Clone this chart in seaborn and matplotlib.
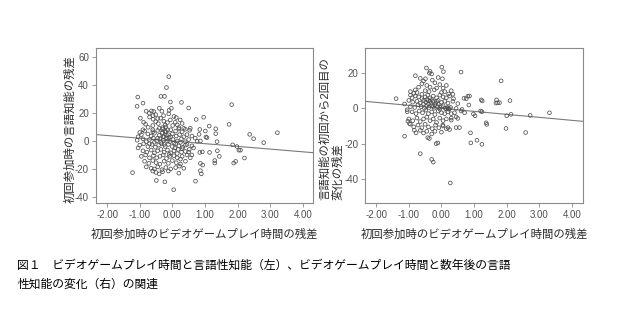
import matplotlib
matplotlib.use("Agg")
import matplotlib.pyplot as plt
import matplotlib.ticker as mticker
import numpy as np
import pandas as pd
import seaborn as sns

# ---- data: residuals (x = video game play time, y = verbal intelligence) ----
left_points = [
    # sparse / outlying observations
    (-0.11, 45.9), (-0.18, 38.1), (-1.06, 31.3), (-0.35, 31.8), (-0.24, 31.8),
    (-0.90, 27.0), (-1.08, 24.7), (-0.06, 27.8), (0.28, 27.5), (0.50, 23.5),
    (1.82, 25.9), (1.74, 11.8), (0.96, 16.9), (0.73, 15.3), (1.13, 10.6),
    (1.33, 8.7), (1.33, 5.2), (2.37, 4.7), (2.49, 1.6), (2.80, -1.2),
    (3.22, 5.9), (1.85, -2.8), (1.98, -4.0), (2.04, -6.6), (2.09, -6.6),
    (2.21, -12.2), (1.88, -15.8), (1.94, -14.6), (1.37, -0.5), (1.38, -7.0),
    (1.44, -11.0), (1.30, -14.0), (1.30, -15.8), (1.14, -8.2), (1.06, 2.4),
    (1.03, 2.8), (0.92, -7.8), (0.84, -8.2), (0.86, -16.0), (0.93, -17.2),
    (0.86, -21.2), (0.89, -23.5), (0.71, -28.7), (0.04, -34.8), (-0.23, -29.2),
    (-0.49, -28.2), (-1.22, -22.6), (0.84, 8.2), (0.86, 0.0), (0.76, -0.2),
    (1.01, 7.1),
    # upper part of the cluster
    (-0.80, 21.2), (-0.64, 21.4), (-0.57, 21.0), (-0.71, 19.8), (-0.59, 18.1),
    (-0.51, 18.8), (-0.40, 23.3), (-0.32, 21.2), (-0.10, 21.9), (-0.03, 23.3),
    (-0.27, 18.1), (-0.11, 19.3), (0.12, 16.7), (0.24, 15.0), (0.09, 13.3),
    (-0.98, 16.2), (-0.88, 13.3), (-0.82, 11.9), (-0.74, 9.7), (-0.59, 15.5),
    (-0.51, 13.8), (-0.43, 12.4), (-0.36, 16.2), (-0.26, 14.1), (-0.15, 13.1),
    (-0.22, 11.4), (-0.06, 15.0), (0.01, 11.0), (0.20, 9.5), (0.40, 8.3),
    (0.55, 9.0), (0.53, 7.6), (0.82, 4.7), (-0.70, 17.0), (-0.45, 16.0),
    (-0.30, 9.5), (-0.60, 11.0), (-0.15, 8.0), (0.05, 17.5), (-0.90, 8.0),
    (0.30, 12.5), (0.15, 11.5),
    # core of the cluster
    (-1.00, 6.0), (-0.85, 7.0), (-0.60, 8.0), (-0.45, 7.5), (-0.30, 8.5),
    (-0.20, 6.5), (-0.05, 8.0), (0.10, 7.0), (0.30, 6.5), (0.45, 4.5),
    (-1.05, 3.0), (-0.95, 4.5), (-0.75, 5.0), (-0.65, 3.5), (-0.55, 5.5),
    (-0.40, 4.0), (-0.32, 5.5), (-0.25, 3.0), (-0.12, 4.5), (0.00, 5.0),
    (0.12, 3.5), (0.22, 4.5), (0.35, 3.0), (0.60, 3.5),
    (-1.08, 0.5), (-0.90, 1.5), (-0.80, -0.5), (-0.70, 1.0), (-0.58, 2.0),
    (-0.48, 0.0), (-0.38, 1.5), (-0.28, 0.5), (-0.18, 2.0), (-0.08, -0.5),
    (0.02, 1.0), (0.15, 0.0), (0.28, 1.5), (0.40, -0.5), (0.50, 1.0),
    (-1.00, -3.0), (-0.88, -2.0), (-0.75, -4.0), (-0.62, -2.5), (-0.52, -4.5),
    (-0.42, -3.0), (-0.33, -2.0), (-0.22, -4.0), (-0.12, -2.5), (0.00, -4.0),
    (0.10, -2.0), (0.20, -3.5), (0.32, -4.5), (0.45, -2.5), (0.60, -3.5),
    (-1.05, -5.0), (-0.90, -7.0), (-0.78, -8.0), (-0.65, -6.5), (-0.55, -8.5),
    (-0.45, -7.0), (-0.35, -6.0), (-0.25, -8.0), (-0.15, -6.5), (-0.05, -8.5),
    (0.05, -7.0), (0.18, -6.0), (0.28, -8.0), (0.40, -7.5), (0.52, -6.0),
    (-0.95, -11.0), (-0.82, -10.0), (-0.70, -12.0), (-0.58, -10.5), (-0.48, -12.0),
    (-0.38, -11.0), (-0.28, -10.0), (-0.18, -12.5), (-0.08, -11.0), (0.05, -10.5),
    (0.15, -12.0), (0.30, -11.0), (0.45, -10.0),
    (-0.85, -14.5), (-0.72, -16.0), (-0.60, -14.0), (-0.50, -15.5), (-0.38, -16.5),
    (-0.25, -14.5), (-0.12, -16.0), (0.00, -14.0), (0.12, -15.5), (0.25, -16.5),
    (0.40, -14.5),
    (-0.80, -18.5), (-0.65, -19.5), (-0.55, -20.0), (-0.45, -18.5), (-0.32, -20.5),
    (-0.20, -19.0), (-0.05, -20.0), (0.10, -19.0), (0.22, -18.0), (0.35, -19.5),
    (-0.60, -21.5), (-0.50, -22.5), (-0.40, -23.5), (-0.30, -22.0), (-0.12, -21.5),
    (0.20, -23.0),
    (-0.30, 6.0), (-0.28, 3.0), (-0.22, 7.0), (-0.18, 4.0), (-0.10, 2.5),
    (-0.35, -1.0), (-0.25, -2.5), (-0.15, 0.0), (-0.05, 3.0), (0.05, -1.5),
    (-0.40, 9.0), (-0.20, 10.0), (-0.45, 2.0), (0.25, -1.0), (0.20, 8.5),
    (0.35, 9.0), (-0.55, -1.0), (-0.70, -2.0), (-0.60, 6.5), (0.08, -5.0),
    (0.15, -9.0), (-0.10, -9.5), (0.25, -13.0), (0.30, -5.5), (0.40, -3.0),
    (0.50, -8.0), (0.55, -12.0), (0.60, -10.0), (0.65, -5.0), (0.70, 2.0),
]

# residuals (x = video game play time, y = change in verbal intelligence)
right_points = [
    # sparse / outlying observations
    (0.01, 23.4), (-0.46, 22.9), (0.06, 20.8), (0.60, 20.6), (-0.35, 21.0),
    (-0.37, 20.0), (-0.80, 18.5), (1.83, 15.6), (-0.49, 16.8), (0.03, 16.8),
    (-1.39, 5.5), (-1.13, 2.5), (-1.05, -0.8), (-1.05, -1.9), (-1.13, -15.8),
    (-0.65, -25.7), (-0.30, -29.0), (-0.25, -30.5), (0.27, -42.3), (-0.16, -20.0),
    (-0.37, -17.1), (-0.42, -16.6), (0.89, -13.9), (0.90, -19.6), (1.09, -18.1),
    (1.24, -20.4), (1.37, -8.2), (1.39, -9.1), (1.98, -11.4), (2.58, -13.7),
    (2.00, -4.2), (2.13, -3.4), (2.10, 4.4), (1.69, 4.8), (1.72, 3.2),
    (1.78, 3.2), (1.67, 3.0), (2.72, -4.0), (3.31, -2.5), (1.22, 4.8),
    (1.25, 4.2), (1.24, -1.9), (1.20, -1.5), (1.03, -4.2), (0.98, -3.2),
    (0.81, 6.9), (0.86, 7.0), (0.76, 5.5), (0.69, 5.7), (0.84, 1.9),
    (0.50, 2.7), (0.63, -0.6), (0.60, -1.5), (0.71, -2.5), (0.35, 8.0),
    (0.37, 5.5), (0.22, 8.2), (0.45, -4.8), (0.50, -5.7), (0.30, -6.7),
    (0.25, -12.0), (0.45, -10.9), (-1.03, -7.3), (-0.98, -8.6), (-0.83, -12.4),
    (-0.78, -13.9), (-0.11, -19.6), (0.55, -10.9),
    # upper part of the cluster
    (-0.70, 12.0), (-0.60, 14.0), (-0.55, 15.5), (-0.45, 13.0), (-0.35, 12.0),
    (-0.28, 16.0), (-0.20, 14.5), (-0.15, 11.5), (-0.05, 13.5), (0.05, 11.5),
    (0.10, 9.5), (-0.80, 10.5), (-0.95, 9.5), (-0.85, 8.5), (-0.30, 19.5),
    (-0.10, 17.5), (0.15, 13.0), (0.30, 10.0), (-0.65, 17.0), (-0.50, 10.0),
    (-0.38, 9.5), (-0.22, 10.5), (0.00, 9.0), (-0.90, 6.0), (-0.75, 9.0),
    # core of the cluster
    (-0.95, 7.5), (-0.80, 7.0), (-0.70, 6.5), (-0.60, 8.0), (-0.50, 6.5),
    (-0.42, 7.5), (-0.35, 6.0), (-0.25, 7.0), (-0.15, 6.0), (-0.05, 7.5),
    (0.05, 6.5), (0.15, 6.0), (0.25, 7.0),
    (-1.00, 4.5), (-0.88, 3.5), (-0.75, 4.0), (-0.65, 3.0), (-0.55, 4.5),
    (-0.48, 3.5), (-0.40, 4.5), (-0.32, 3.0), (-0.25, 4.0), (-0.18, 3.0),
    (-0.10, 4.5), (0.00, 3.5), (0.10, 4.0), (0.20, 3.0), (0.35, 4.0),
    (-0.95, 1.0), (-0.82, 0.5), (-0.72, 2.0), (-0.62, 1.0), (-0.52, 0.0),
    (-0.45, 1.5), (-0.38, 0.5), (-0.30, 1.5), (-0.22, 0.0), (-0.12, 1.0),
    (-0.05, 0.5), (0.05, 1.5), (0.12, 0.0), (0.18, 0.5), (0.22, -0.5),
    (0.28, 0.5), (0.45, 0.0), (0.15, -0.3), (0.20, 0.2), (0.25, -0.2),
    (-0.90, -2.0), (-0.78, -3.0), (-0.68, -1.5), (-0.58, -2.5), (-0.48, -1.0),
    (-0.40, -3.0), (-0.30, -2.0), (-0.20, -3.5), (-0.10, -1.5), (0.00, -2.5),
    (0.10, -3.0), (0.20, -2.0), (0.30, -3.0), (0.40, -2.5),
    (-1.00, -6.0), (-0.88, -7.0), (-0.75, -5.5), (-0.65, -7.5), (-0.55, -6.0),
    (-0.45, -5.0), (-0.35, -7.0), (-0.25, -6.0), (-0.15, -8.0), (-0.05, -5.5),
    (0.05, -7.0), (0.15, -6.0), (0.30, -5.5),
    (-0.95, -9.0), (-0.85, -10.5), (-0.72, -9.5), (-0.60, -11.0), (-0.50, -9.0),
    (-0.40, -10.5), (-0.28, -11.5), (-0.18, -9.5), (-0.08, -11.0), (0.05, -10.0),
    (0.15, -11.5),
    (-0.65, -12.5), (-0.55, -14.0), (-0.45, -13.0), (-0.30, -14.5), (-0.20, -13.0),
    (0.00, -13.5), (0.04, -9.5), (0.20, -10.9),
    (-0.45, 5.0), (-0.40, 2.5), (-0.35, 4.0), (-0.30, 5.0), (-0.20, 2.0),
    (-0.15, 4.0), (-0.10, 2.5), (-0.05, -0.5), (0.00, 1.0), (-0.25, 1.0),
    (-0.55, 2.5), (-0.60, 5.5),
]

# least-squares fit lines (intercept, slope)
left_fit = (0.0, -1.94)
right_fit = (0.0, -1.70)

x_ticks = [-2.0, -1.0, 0.0, 1.0, 2.0, 3.0, 4.0]
left_y_ticks = [-40, -20, 0, 20, 40, 60]
right_y_ticks = [-40, -20, 0, 20]

x_label = "初回参加時のビデオゲームプレイ時間の残差"
left_y_label = "初回参加時の言語知能の残差"
right_y_label = "言語知能の初回から2回目の\n変化の残差"
caption_1 = "図１　ビデオゲームプレイ時間と言語性知能（左）、ビデオゲームプレイ時間と数年後の言語"
caption_2 = "性知能の変化（右）の関連"

# ---- styling ----
sns.set_theme(style="white")
plt.rcParams["font.family"] = ["Liberation Sans", "Noto Sans CJK JP"]
plt.rcParams["axes.unicode_minus"] = False

fig = plt.figure(figsize=(6.4, 3.28), dpi=100)
ax_l = fig.add_axes([0.150, 0.381, 0.339, 0.473])
ax_r = fig.add_axes([0.571, 0.381, 0.340, 0.473])

spine_col = "#8a8a8a"
tick_col = "#505050"
label_col = "#2a2a2a"
point_col = "#505050"
line_col = "#7a7a7a"


def draw_panel(ax, points, fit, xlim, ylim, yticks, ylabel, ylabel_x):
    df = pd.DataFrame(points, columns=["x", "y"])
    sns.scatterplot(data=df, x="x", y="y", ax=ax, marker="o", s=7,
                    facecolor="none", edgecolor=point_col, linewidth=0.55,
                    legend=False, zorder=3)
    ax.set_xlim(*xlim)
    ax.set_ylim(*ylim)
    xs = np.array(xlim)
    line_df = pd.DataFrame({"x": xs, "y": fit[0] + fit[1] * xs})
    sns.lineplot(data=line_df, x="x", y="y", ax=ax, color=line_col,
                 linewidth=0.8, zorder=2)
    ax.set_xticks(x_ticks)
    ax.set_yticks(yticks)
    ax.xaxis.set_major_formatter(mticker.FormatStrFormatter("%.2f"))
    ax.yaxis.set_major_formatter(mticker.FormatStrFormatter("%d"))
    ax.tick_params(axis="both", which="major", direction="out", length=3,
                   width=0.6, color=spine_col, labelsize=7,
                   labelcolor=tick_col, pad=2, bottom=True, left=True)
    for sp in ax.spines.values():
        sp.set_color(spine_col)
        sp.set_linewidth(0.8)
    ax.set_xlabel(x_label, fontsize=8.2, color=label_col)
    ax.xaxis.set_label_coords(0.5, -0.165)
    ax.set_ylabel(ylabel, fontsize=8.2, color=label_col,
                  multialignment="left", linespacing=1.15)
    ax.yaxis.set_label_coords(ylabel_x, 0.477)


draw_panel(ax_l, left_points, left_fit, (-2.34, 4.31), (-44.3, 66.4),
           left_y_ticks, left_y_label, -0.095)
draw_panel(ax_r, right_points, right_fit, (-2.33, 4.34), (-53.7, 34.3),
           right_y_ticks, right_y_label, -0.102)

fig.text(0.027, 1 - 265 / 328, caption_1, fontsize=8.5, color="#000000",
         va="center", ha="left", family=["Noto Sans CJK JP", "DejaVu Sans"])
fig.text(0.027, 1 - 284 / 328, caption_2, fontsize=8.5, color="#000000",
         va="center", ha="left", family=["Noto Sans CJK JP", "DejaVu Sans"])

fig.savefig("out.png", dpi=100, facecolor="white")
